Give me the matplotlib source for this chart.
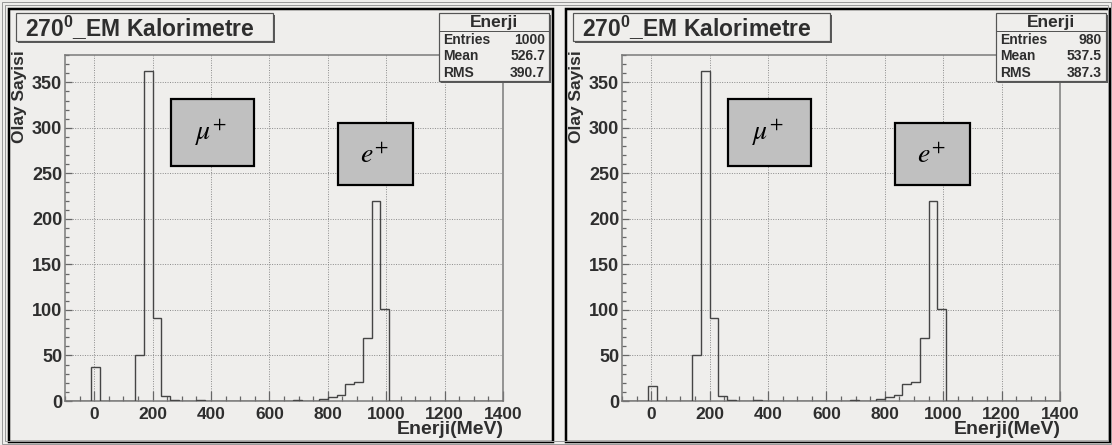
import numpy as np
import matplotlib
matplotlib.use("Agg")
import matplotlib.pyplot as plt
from matplotlib.patches import Rectangle

# histogram binning (MeV)
bin_width = 30
x_min, x_max = -100, 1400

# lower edges of the filled bins and their counts
left_bins = [-10, 140, 170, 200, 230, 260, 350, 680, 770, 800, 830, 860, 890, 920, 950, 980]
left_counts = [37, 50, 362, 91, 6, 1, 1, 1, 2, 4, 7, 19, 21, 69, 220, 101]
right_bins = [-10, 140, 170, 200, 230, 260, 350, 680, 770, 800, 830, 860, 890, 920, 950, 980]
right_counts = [16, 50, 362, 91, 6, 1, 1, 1, 2, 4, 7, 19, 21, 69, 220, 101]

stat_names = ["Entries", "Mean", "RMS"]
left_stats = ["1000", "526.7", "390.7"]
right_stats = ["980", "537.5", "387.3"]

title = r"270$^{\mathbf{0}}$_EM Kalorimetre"
x_label = "Enerji(MeV)"
y_label = "Olay Sayisi"
hist_name = "Enerji"

BG = "#efeeec"
TXT = "#2e2e2e"
W, H = 1112, 445

plt.rcParams["font.family"] = ["Liberation Sans", "DejaVu Sans"]
plt.rcParams["mathtext.fontset"] = "custom"
plt.rcParams["mathtext.rm"] = "Liberation Sans:bold"
plt.rcParams["mathtext.bf"] = "Liberation Sans:bold"

fig = plt.figure(figsize=(W / 100, H / 100), dpi=100, facecolor=BG)

# overlay in pixel coordinates for frames, boxes and labels
ov = fig.add_axes([0, 0, 1, 1], zorder=5)
ov.set_xlim(0, W)
ov.set_ylim(H, 0)
ov.axis("off")

PX = 0.72  # one pixel in points


def box(x0, y0, x1, y1, fc, ec, lw, shadow=False):
    if shadow:
        ov.add_patch(Rectangle((x0 + 2, y0 + 2), x1 - x0, y1 - y0,
                               fc="#5a5a5a", ec="none"))
    ov.add_patch(Rectangle((x0, y0), x1 - x0, y1 - y0, fc=fc, ec=ec, lw=lw))


def draw_panel(dx, bins, counts, stats):
    ax = fig.add_axes([(65 + dx) / W, 1 - 401 / H, 438 / W, 346 / H], facecolor=BG)

    edges = np.arange(x_min, x_max + bin_width, bin_width)
    full = np.zeros(len(edges) - 1)
    for lo, c in zip(bins, counts):
        full[(lo - x_min) // bin_width] = c
    ax.stairs(full, edges, color="#454545", lw=1.0, baseline=0, zorder=3)

    ax.set_xlim(x_min, x_max)
    ax.set_ylim(0, 380)
    ax.set_xticks(np.arange(0, 1401, 200))
    ax.set_xticks(np.arange(-100, 1401, 50), minor=True)
    ax.set_yticks(np.arange(0, 351, 50))
    ax.set_yticks(np.arange(0, 381, 10), minor=True)
    ax.grid(True, which="major", color="#8a8a8a", ls=(0, (1, 1.5)), lw=0.7)
    ax.tick_params(axis="x", which="major", direction="in", length=7, width=0.9,
                   color="#666666", pad=4, labelsize=12.5, labelcolor=TXT)
    ax.tick_params(axis="x", which="minor", direction="in", length=3.6, width=0.9,
                   color="#666666")
    ax.tick_params(axis="y", which="major", direction="in", length=5, width=0.9,
                   color="#666666", pad=2, labelsize=13, labelcolor=TXT)
    ax.tick_params(axis="y", which="minor", direction="in", length=3, width=0.9,
                   color="#666666")
    for lab in ax.get_xticklabels() + ax.get_yticklabels():
        lab.set_fontweight("bold")
    for sp in ax.spines.values():
        sp.set_color("#7a7a7a")
        sp.set_linewidth(1.1)

    # panel frame
    box(9 + dx, 9, 553 + dx, 442, "none", "black", 2.5 * PX)

    # title box
    box(16 + dx, 13, 273 + dx, 41, BG, "#555555", 1.2 * PX, shadow=True)
    ov.text(140 + dx, 28, title, ha="center", va="center", fontsize=16.5,
            fontweight="bold", color=TXT, math_fontfamily="custom")

    # stats box
    box(439 + dx, 13, 549 + dx, 81, BG, "#555555", 1.2 * PX, shadow=True)
    ov.plot([439 + dx, 549 + dx], [31, 31], color="#555555", lw=1.0 * PX)
    ov.text(494 + dx, 22, hist_name, ha="center", va="center", fontsize=12.5,
            fontweight="bold", color=TXT)
    for i, (name, val) in enumerate(zip(stat_names, stats)):
        y = 40 + i * 16.5
        ov.text(443 + dx, y, name, ha="left", va="center", fontsize=10,
                fontweight="bold", color=TXT)
        ov.text(545 + dx, y, val, ha="right", va="center", fontsize=10,
                fontweight="bold", color=TXT)

    # particle labels
    box(171 + dx, 99, 254 + dx, 166, "#c0c0c0", "black", 2.2 * PX)
    ov.text(211 + dx, 133, r"$\mu^{+}$", ha="center", va="center", fontsize=20,
            color="black", math_fontfamily="stix")
    box(338 + dx, 123, 413 + dx, 185, "#c0c0c0", "black", 2.2 * PX)
    ov.text(374 + dx, 156, r"$e^{+}$", ha="center", va="center", fontsize=20,
            color="black", math_fontfamily="stix")

    # axis titles
    ov.text(504 + dx, 430, x_label, ha="right", va="center", fontsize=14,
            fontweight="bold", color=TXT)
    ov.text(20 + dx, 50, y_label, ha="center", va="top", rotation=90,
            fontsize=12.5, fontweight="bold", color=TXT)


draw_panel(0, left_bins, left_counts, left_stats)
draw_panel(557, right_bins, right_counts, right_stats)

# outer double border of the canvas
ov.add_patch(Rectangle((1.5, 1.5), W - 3, H - 3, fc="none", ec="#9a9a9a", lw=1 * PX))
ov.add_patch(Rectangle((4.5, 4.5), W - 9, H - 9, fc="none", ec="#9a9a9a", lw=1 * PX))

fig.savefig("out.png", dpi=100, facecolor=BG)
